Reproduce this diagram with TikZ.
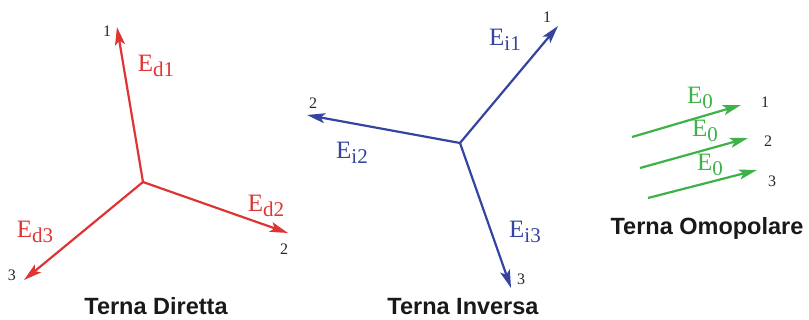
\documentclass[tikz,border=0pt]{standalone}
\usepackage{fontspec}
\setmainfont{Liberation Serif}
\newfontfamily\titlefont{Liberation Sans}
\usetikzlibrary{arrows.meta}
\definecolor{cred}{RGB}{222,52,52}
\definecolor{cblue}{RGB}{52,68,160}
\definecolor{cgreen}{RGB}{62,178,72}
\newcommand\vlab[1]{\fontsize{25}{25}\selectfont E\raisebox{-5pt}{\fontsize{21}{21}\selectfont #1}}
\tikzset{
  vec/.style={line width=2.2pt,-{Stealth[length=18pt,width=10pt,inset=4pt]}},
  lab/.style={inner sep=0pt},
  num/.style={inner sep=0pt,font=\fontsize{16}{16}\selectfont,text=black!85},
  ttl/.style={inner sep=0pt,anchor=base,font=\titlefont\bfseries\fontsize{23.5}{23.5}\selectfont,text=black!90}
}
\begin{document}
\begin{tikzpicture}[x=1pt,y=-1pt]
\useasboundingbox (0,0) rectangle (809,320);
% ---- Terna Diretta
\coordinate (dc) at (143,182);
\coordinate (d1) at (117,27);
\coordinate (d2) at (288,233);
\coordinate (d3) at (24,280);
\draw[vec,cred] (dc) -- (d1);
\draw[vec,cred] (dc) -- (d2);
\draw[vec,cred] (dc) -- (d3);
\node[num] (nd1) at (107,31) {1};
\node[num] (nd2) at (284,249) {2};
\node[num] (nd3) at (12,275) {3};
\node[lab,text=cred] (ld1) at (156,66) {\vlab{d1}};
\node[lab,text=cred] (ld2) at (266,206) {\vlab{d2}};
\node[lab,text=cred] (ld3) at (35,232) {\vlab{d3}};
\node[ttl] (td) at (156,314.5) {Terna Diretta};
% ---- Terna Inversa
\coordinate (ic) at (460,143);
\coordinate (i1) at (558,26);
\coordinate (i2) at (307,115);
\coordinate (i3) at (511,288);
\draw[vec,cblue] (ic) -- (i1);
\draw[vec,cblue] (ic) -- (i2);
\draw[vec,cblue] (ic) -- (i3);
\node[num] (ni1) at (547,17) {1};
\node[num] (ni2) at (313,103) {2};
\node[num] (ni3) at (521,279) {3};
\node[lab,text=cblue] (li1) at (505,40) {\vlab{i1}};
\node[lab,text=cblue] (li2) at (352,153) {\vlab{i2}};
\node[lab,text=cblue] (li3) at (525,232) {\vlab{i3}};
\node[ttl] (ti) at (463,314.5) {Terna Inversa};
% ---- Terna Omopolare
\coordinate (a1) at (632,137); \coordinate (b1) at (741,105);
\coordinate (a2) at (640,168); \coordinate (b2) at (748,138);
\coordinate (a3) at (648,198); \coordinate (b3) at (757,170);
\draw[vec,cgreen] (a1) -- (b1);
\draw[vec,cgreen] (a2) -- (b2);
\draw[vec,cgreen] (a3) -- (b3);
\node[lab,text=cgreen] (l01) at (700,98) {\vlab{0}};
\node[lab,text=cgreen] (l02) at (705,131) {\vlab{0}};
\node[lab,text=cgreen] (l03) at (710,165) {\vlab{0}};
\node[num] (n01) at (765,102) {1};
\node[num] (n02) at (768,141) {2};
\node[num] (n03) at (772,181) {3};
\node[ttl] (to) at (707,235) {Terna Omopolare};
\end{tikzpicture}
\end{document}
